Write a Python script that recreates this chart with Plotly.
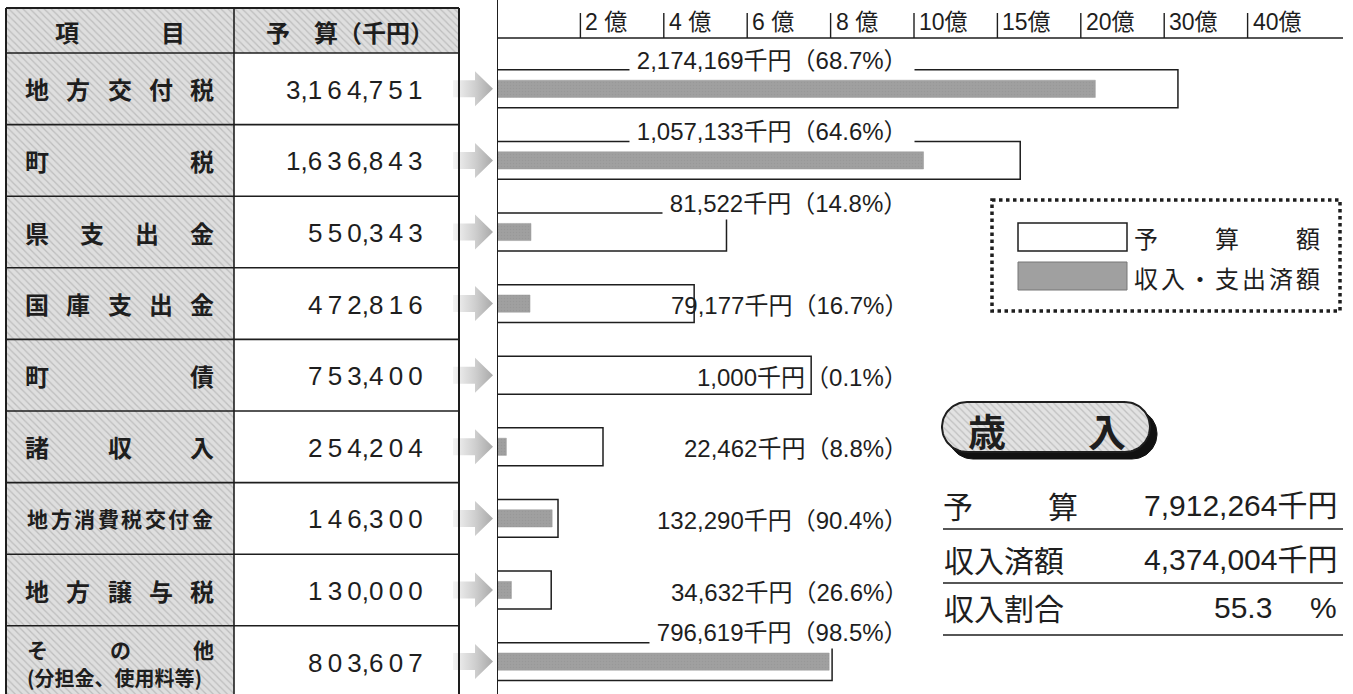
import numpy as np
import plotly.graph_objects as go

W, H = 1353, 694

# ---------------- data ----------------
items = ["地方交付税", "町税", "県支出金", "国庫支出金", "町債", "諸収入",
         "地方消費税交付金", "地方譲与税", "その他"]
item_notes = ["", "", "", "", "", "", "", "", "(分担金、使用料等)"]
budget = [3164751, 1636843, 550343, 472816, 753400, 254204, 146300, 130000, 803607]
received = [2174169, 1057133, 81522, 79177, 1000, 22462, 132290, 34632, 796619]
pct = [68.7, 64.6, 14.8, 16.7, 0.1, 8.8, 90.4, 26.6, 98.5]
tick_oku = [2, 4, 6, 8, 10, 15, 20, 30, 40]
tick_text = ["2 億", "4 億", "6 億", "8 億", "10億", "15億", "20億", "30億", "40億"]
header_labels = ["項目", "予　算（千円）"]
legend_labels = ["予算額", "収入・支出済額"]
title_text = "歳入"
summary_labels = ["予算", "収入済額", "収入割合"]
summary_values = ["7,912,264千円", "4,374,004千円", "55.3"]
summary_units = ["", "", "%"]

# ---------------- style / layout ----------------
label_above = [True, True, True, False, False, False, False, False, True]
JP = "Noto Sans CJK JP"
LAT = "Liberation Sans, Noto Sans CJK JP"
INK = "#1e1e1e"
BAR_GRAY = "#a0a0a0"

ROW_TOP, ROW_H = 53.0, 71.6
TBL_L, TBL_M, TBL_R, TBL_T = 6, 234, 459, 8
CH_X0, CH_X1, TICK_PX, AXIS_Y = 497, 1343, 83.4, 38

n = len(items)
idx = np.arange(n)
row_c = ROW_TOP + ROW_H * (idx + 0.5)


def y_idx(p):
    return (p - (ROW_TOP + ROW_H / 2)) / ROW_H


BREAKS = [0] + tick_oku


def scale(v_thousand):
    oku = np.asarray(v_thousand, dtype=float) / 1e5
    return np.interp(oku, BREAKS, np.arange(len(BREAKS)))


fig = go.Figure()

# ---- bars (main chart axes) ----
fig.add_trace(go.Bar(y=idx, x=scale(budget), orientation="h", width=0.53,
                     marker=dict(color="white", line=dict(color=INK, width=1.5)),
                     xaxis="x", yaxis="y", hoverinfo="skip"))
fig.add_trace(go.Bar(y=idx, x=scale(received), orientation="h", width=0.24,
                     marker=dict(color=BAR_GRAY, line=dict(color="#9a9a9a", width=0.5),
                                 pattern=dict(shape=".", fgcolor="#8f8f8f", bgcolor=BAR_GRAY,
                                              size=3, solidity=0.2)),
                     xaxis="x", yaxis="y", hoverinfo="skip"))

# ---- hatched table cells (pixel axes) ----
hx, hy = [], []


def add_rect(x0, y0, x1, y1):
    hx.extend([x0, x1, x1, x0, x0, None])
    hy.extend([y0, y0, y1, y1, y0, None])


add_rect(TBL_L, TBL_T, TBL_R, ROW_TOP)
for k in range(n):
    add_rect(TBL_L, ROW_TOP + ROW_H * k, TBL_M, min(H, ROW_TOP + ROW_H * (k + 1)))
fig.add_trace(go.Scatter(x=hx, y=hy, mode="lines", fill="toself", line=dict(width=0),
                         fillcolor="#d9d9d9",
                         fillpattern=dict(shape="\\", fgcolor="#9c9c9c", bgcolor="#dedede",
                                          size=5, solidity=0.25),
                         xaxis="x2", yaxis="y2", hoverinfo="skip"))

# ---- arrows ----
ax, ay = [], []
for c in row_c:
    pts = [(453, c - 8.5), (475, c - 8.5), (475, c - 17.5), (493, c),
           (475, c + 17.5), (475, c + 8.5), (453, c + 8.5), (453, c - 8.5)]
    ax.extend([p[0] for p in pts] + [None])
    ay.extend([p[1] for p in pts] + [None])
fig.add_trace(go.Scatter(x=ax, y=ay, mode="lines", fill="toself", line=dict(width=0),
                         fillgradient=dict(type="horizontal", start=453, stop=493,
                                           colorscale=[[0, "#f4f4f4"], [0.55, "#cfcfcf"],
                                                       [1, "#a9a9a9"]]),
                         xaxis="x2", yaxis="y2", hoverinfo="skip"))


# ---- title pill ----
def pill(x0, x1, yc, r, m=40):
    th = np.linspace(-np.pi / 2, np.pi / 2, m)
    xr = (x1 - r) + r * np.cos(th)
    yr = yc + r * np.sin(th)
    th2 = np.linspace(np.pi / 2, 3 * np.pi / 2, m)
    xl = (x0 + r) + r * np.cos(th2)
    yl = yc + r * np.sin(th2)
    return list(xr) + list(xl) + [xr[0]], list(yr) + list(yl) + [yr[0]]


sx, sy = pill(948, 1157, 434, 25)
fig.add_trace(go.Scatter(x=sx, y=sy, mode="lines", fill="toself", fillcolor="#111",
                         line=dict(color="#111", width=1), xaxis="x2", yaxis="y2",
                         hoverinfo="skip"))
px_, py_ = pill(942, 1150, 427, 25)
fig.add_trace(go.Scatter(x=px_, y=py_, mode="lines", fill="toself", fillcolor="#dedede",
                         fillpattern=dict(shape="\\", fgcolor="#9c9c9c", bgcolor="#e2e2e2",
                                          size=5, solidity=0.25),
                         line=dict(color=INK, width=2), xaxis="x2", yaxis="y2",
                         hoverinfo="skip"))

shapes = []


def line(x0, y0, x1, y1, w=1.6, color=INK, xref="x2", yref="y2", dash=None):
    d = dict(type="line", x0=x0, y0=y0, x1=x1, y1=y1, xref=xref, yref=yref,
             line=dict(color=color, width=w), layer="above")
    if dash:
        d["line"]["dash"] = dash
    shapes.append(d)


# table grid
line(TBL_L, TBL_T, TBL_R, TBL_T, 2)
line(TBL_L, TBL_T, TBL_L, H, 2)
line(TBL_R, TBL_T, TBL_R, H, 2)
line(TBL_M, TBL_T, TBL_M, H, 1.6)
for k in range(n):
    line(TBL_L, ROW_TOP + ROW_H * k, TBL_R, ROW_TOP + ROW_H * k, 1.6)

# chart axis lines and ticks
x_end = (CH_X1 - CH_X0) / TICK_PX
line(0, 0, 0, H, 2, xref="x", yref="y2")
line(0, AXIS_Y, x_end, AXIS_Y, 1.6, xref="x", yref="y2")
tick_pos = scale(np.array(tick_oku) * 1e5)
for tp in tick_pos:
    line(tp, 13, tp, AXIS_Y, 1.4, xref="x", yref="y2")

# legend box
shapes.append(dict(type="rect", x0=992, y0=200, x1=1340, y1=311, xref="x2", yref="y2",
                   line=dict(color=INK, width=3.5, dash="dot"), layer="above"))
shapes.append(dict(type="rect", x0=1018, y0=223, x1=1127, y1=251, xref="x2", yref="y2",
                   fillcolor="white", line=dict(color=INK, width=1.5), layer="above"))
shapes.append(dict(type="rect", x0=1018, y0=262, x1=1127, y1=290, xref="x2", yref="y2",
                   fillcolor=BAR_GRAY, line=dict(color="#777", width=1), layer="above"))

# summary underlines
for yl in [529, 583, 635]:
    line(943, yl, 1343, yl, 1.6)

annotations = []


def ann(x, y, text, size, xanchor="center", yanchor="middle", xref="x2", yref="y2",
        family=JP, bold=False, **kw):
    t = f"<b>{text}</b>" if bold else text
    d = dict(x=x, y=y, text=t, xref=xref, yref=yref, xanchor=xanchor, yanchor=yanchor,
             showarrow=False, font=dict(family=family, size=size, color=INK))
    d.update(kw)
    annotations.append(d)


def justified(text, xl, xr, yc, size, bold=True):
    chars = list(text)
    if len(chars) == 1:
        ann((xl + xr) / 2, yc, text, size, bold=bold)
        return
    cs = np.linspace(xl + size / 2, xr - size / 2, len(chars))
    for ch, cx in zip(chars, cs):
        ann(cx, yc, ch, size, bold=bold)


# header
ann(67, 31, header_labels[0][0], 24, bold=True)
ann(173, 31, header_labels[0][1], 24, bold=True)
ann(350, 31, header_labels[1], 24, bold=True)

# item names + budget numbers
for i in range(n):
    c = row_c[i]
    if item_notes[i]:
        justified(items[i], 27, 214, c - 13, 21)
        ann(114, c + 16, item_notes[i], 20, bold=True)
    elif len(items[i]) > 6:
        justified(items[i], 27, 213, c, 21)
    else:
        justified(items[i], 25, 214, c, 24)
    s = f"{budget[i]:,}"
    spaced = ""
    for j, ch in enumerate(s):
        spaced += ch
        if j < len(s) - 1 and ch.isdigit() and s[j + 1].isdigit():
            spaced += "\u2009"
    ann(425, c + 1, spaced, 26, xanchor="right", family=LAT)

# bar labels
for i in range(n):
    txt = f"{received[i]:,}千円（{pct[i]}%）"
    if label_above[i]:
        ann(915, i - 0.40, "\u2009" + txt + "\u2009", 24, xanchor="right", yref="y",
            family=LAT, bgcolor="white", borderpad=2)
    else:
        ann(910, i + 0.03, txt, 24, xanchor="right", yref="y", family=LAT)

# tick labels
for tp, tt in zip(tick_pos, tick_text):
    ann(tp, 22, tt, 23, xanchor="left", xref="x", family=LAT, xshift=3)

# legend texts
justified(legend_labels[0], 1134, 1320, 237, 24, bold=False)
justified(legend_labels[1], 1134, 1320, 277, 24, bold=False)

# title
ann(987, 429, title_text[0], 38, bold=True)
ann(1107, 429, title_text[1], 38, bold=True)

# summary
sy_c = [505, 559, 607]
for k in range(3):
    if k == 0:
        justified(summary_labels[0], 943, 1078, sy_c[k], 30, bold=False)
    else:
        ann(942, sy_c[k], summary_labels[k], 30, xanchor="left")
    if summary_units[k]:
        ann(1274, sy_c[k], summary_values[k], 30, xanchor="right", family=LAT)
        ann(1339, sy_c[k], summary_units[k], 30, xanchor="right", family=LAT)
    else:
        ann(1339, sy_c[k], summary_values[k], 30, xanchor="right", family=LAT)

fig.update_layout(
    width=W, height=H, margin=dict(l=0, r=0, t=0, b=0),
    paper_bgcolor="white", plot_bgcolor="rgba(0,0,0,0)",
    showlegend=False, barmode="overlay",
    xaxis=dict(domain=[CH_X0 / W, CH_X1 / W], range=[0, x_end], anchor="y", visible=False,
               fixedrange=True),
    yaxis=dict(domain=[0, 1], range=[y_idx(H), y_idx(0)], anchor="x", visible=False,
               fixedrange=True),
    xaxis2=dict(domain=[0, 1], range=[0, W], anchor="y2", visible=False, fixedrange=True),
    yaxis2=dict(domain=[0, 1], range=[H, 0], anchor="x2", visible=False, fixedrange=True),
    shapes=shapes, annotations=annotations,
)

fig.write_html("out.html", config={"displayModeBar": False},
               post_script="document.body.style.margin='0';document.body.style.overflow='hidden';")
